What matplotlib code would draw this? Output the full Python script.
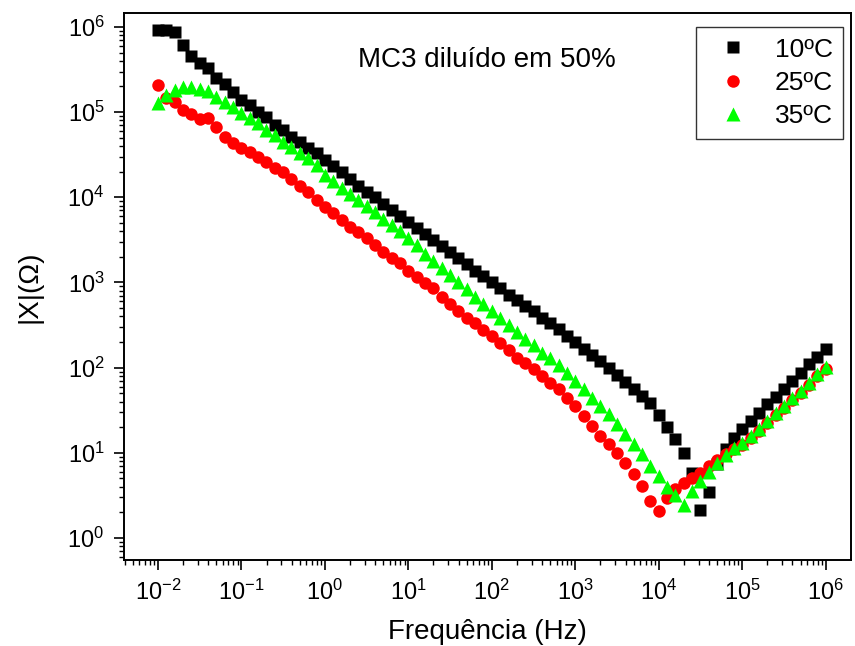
import numpy as np
import matplotlib
matplotlib.use("Agg")
import matplotlib.pyplot as plt
from matplotlib.ticker import LogLocator, NullFormatter

plt.rcParams['font.family'] = ['Liberation Sans', 'DejaVu Sans']

### Data, 10 points per decade, 1e-2 .. 1e6 Hz
freq = np.logspace(-2, 6, 81)

x_10C = [9.22e5, 9.22e5, 8.73e5, 6.14e5, 4.56e5, 3.77e5, 3.29e5, 2.51e5, 2.14e5, 1.72e5,
         1.38e5, 1.21e5, 1.0e5, 8.73e4, 7.03e4, 6.14e4, 5.08e4, 4.43e4, 3.77e4, 3.29e4,
         2.72e4, 2.32e4, 1.97e4, 1.63e4, 1.35e4, 1.15e4, 1.0e4, 8.27e3, 7.03e3, 5.97e3,
         5.08e3, 4.32e3, 3.67e3, 3.12e3, 2.65e3, 2.25e3, 1.92e3, 1.63e3, 1.38e3, 1.18e3,
         1000, 850, 722, 614, 536, 456, 387, 338, 287, 238,
         202, 167, 142, 121, 100, 82.7, 68.4, 56.6, 46.8, 38.7,
         28.0, 20.2, 14.6, 10.0, 5.82, 2.13, 3.47, 7.42, 11.1, 15.0,
         19.2, 23.8, 29.5, 37.7, 45.6, 56.6, 70.3, 87.3, 111, 135,
         167]

x_25C = [2.08e5, 1.46e5, 1.31e5, 1.06e5, 9.47e4, 8.27e4, 8.50e4, 6.66e4, 5.08e4, 4.32e4,
         3.77e4, 3.38e4, 2.95e4, 2.58e4, 2.19e4, 1.97e4, 1.63e4, 1.35e4, 1.15e4, 9.22e3,
         7.63e3, 6.48e3, 5.36e3, 4.43e3, 3.87e3, 3.29e3, 2.72e3, 2.25e3, 1.92e3, 1.67e3,
         1.38e3, 1.15e3, 973, 850, 666, 566, 468, 387, 338, 280,
         232, 192, 159, 131, 112, 97.3, 80.5, 66.6, 56.6, 44.3,
         35.7, 27.2, 20.8, 15.9, 12.8, 10.0, 7.63, 5.66, 4.09, 2.72,
         2.08, 2.95, 3.77, 4.43, 5.08, 5.82, 7.03, 8.27, 9.73, 11.1,
         12.4, 15.0, 18.2, 22.5, 28.0, 33.8, 42.0, 50.8, 63.1, 80.5,
         97.3]

x_35C = [1.28e5, 1.59e5, 1.82e5, 1.97e5, 1.97e5, 1.87e5, 1.77e5, 1.50e5, 1.31e5, 1.15e5,
         9.73e4, 8.50e4, 7.42e4, 6.14e4, 5.36e4, 4.43e4, 3.87e4, 3.29e4, 2.87e4, 2.38e4,
         1.82e4, 1.54e4, 1.28e4, 1.08e4, 9.22e3, 7.84e3, 6.66e3, 5.51e3, 4.68e3, 3.98e3,
         3.29e3, 2.72e3, 2.14e3, 1.77e3, 1.46e3, 1.21e3, 1000, 827, 684, 566,
         468, 387, 320, 265, 219, 182, 150, 128, 106, 87.3,
         70.3, 56.6, 44.3, 35.7, 28.7, 21.9, 16.7, 12.8, 9.73, 7.03,
         5.36, 3.98, 3.20, 2.45, 3.57, 4.68, 5.97, 7.63, 9.47, 11.4,
         13.1, 15.9, 19.2, 23.8, 29.5, 35.7, 44.3, 53.6, 66.6, 85.0,
         103]

labels = ['10ºC', '25ºC', '35ºC']

### Plot
fig = plt.figure(figsize=(8.55, 6.46), dpi=100)
ax = fig.add_axes([0.145, 0.133, 0.850, 0.847])

ax.plot(freq, x_10C, 's', color='black', ms=8, mec='none', label=labels[0])
ax.plot(freq, x_25C, 'o', color='#ff0000', ms=9, mec='none', label=labels[1])
ax.plot(freq, x_35C, '^', color='#00ff00', ms=10, mec='none', label=labels[2])

ax.set_xscale('log')
ax.set_yscale('log')
ax.set_xlim(10**-2.407, 10**6.30)
ax.set_ylim(10**-0.26, 10**6.165)

ax.xaxis.set_major_locator(LogLocator(base=10, numticks=20))
ax.yaxis.set_major_locator(LogLocator(base=10, numticks=20))
ax.xaxis.set_minor_locator(LogLocator(base=10, subs=np.arange(2, 10), numticks=100))
ax.yaxis.set_minor_locator(LogLocator(base=10, subs=np.arange(2, 10), numticks=100))
ax.xaxis.set_minor_formatter(NullFormatter())
ax.yaxis.set_minor_formatter(NullFormatter())

ax.tick_params(which='major', direction='out', length=7, width=1.2, labelsize=17, pad=7)
ax.tick_params(which='minor', direction='out', length=3.5, width=1.0)
for s in ax.spines.values():
    s.set_linewidth(1.4)

ax.set_xlabel('Frequência (Hz)', fontsize=20, labelpad=10)
ax.set_ylabel('|X|(Ω)', fontsize=20, labelpad=18)

ax.text(0.50, 0.914, 'MC3 diluído em 50%', transform=ax.transAxes,
        ha='center', va='center', fontsize=20)

leg = ax.legend(loc='upper right', bbox_to_anchor=(0.990, 0.974), borderaxespad=0,
                fontsize=19, numpoints=1, fancybox=False, handletextpad=0.6,
                labelspacing=0.35, borderpad=0.4)
leg.get_frame().set_edgecolor('black')
leg.get_frame().set_linewidth(1.0)

fig.savefig('out.png', dpi=100)
